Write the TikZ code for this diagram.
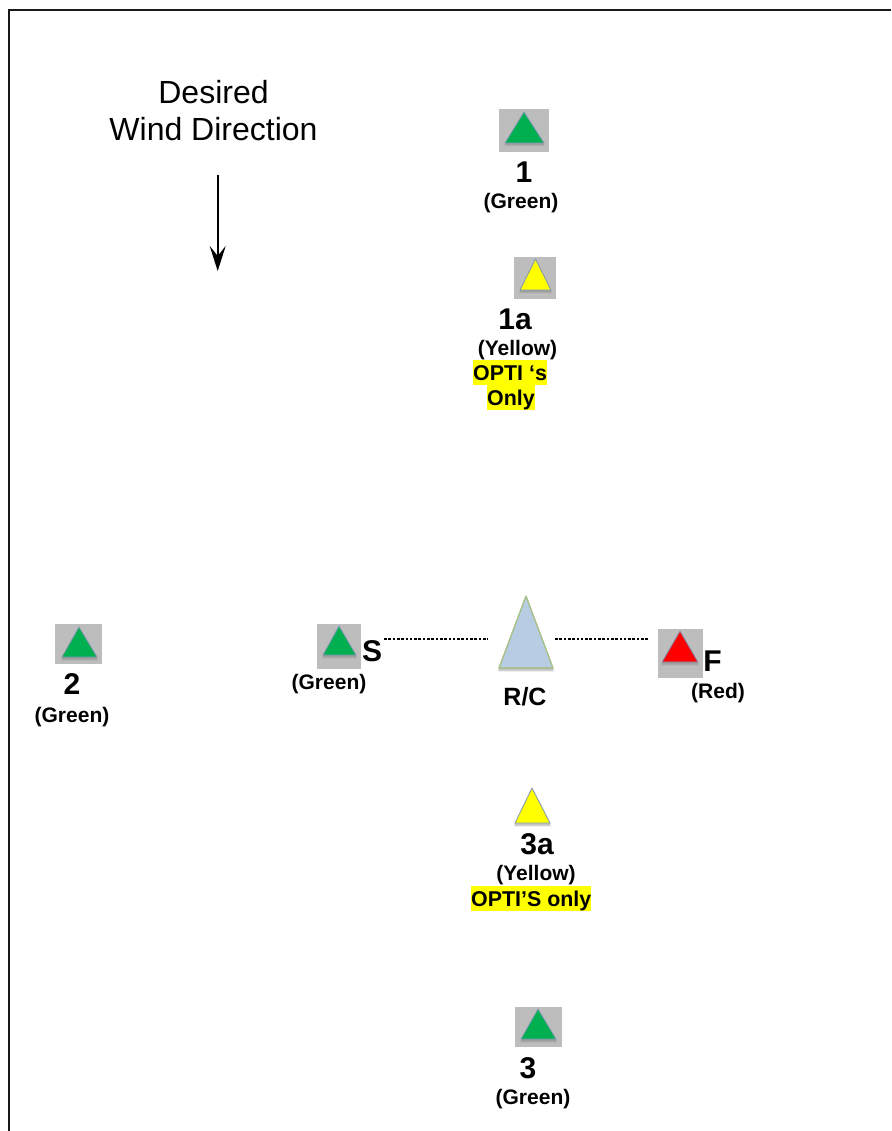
\documentclass[tikz,border=0pt]{standalone}
\usepackage{fontspec}
\setmainfont{Liberation Sans}
\usetikzlibrary{arrows.meta}
\definecolor{mkgray}{HTML}{BDBDBD}
\definecolor{mkgreen}{HTML}{00B050}
\definecolor{mkyellow}{HTML}{FFFF00}
\definecolor{mkred}{HTML}{FF0000}
\definecolor{rcblue}{HTML}{B8CCE4}
\definecolor{rcedge}{HTML}{A9C47F}
\definecolor{mkedge}{HTML}{7F98B4}
\tikzset{
  bigl/.style={inner sep=0,anchor=base,font=\fontsize{30}{30}\selectfont\bfseries},
  small/.style={inner sep=0,anchor=base,font=\fontsize{21}{21}\selectfont\bfseries},
  hl/.style={inner sep=0,anchor=south west,fill=mkyellow,text height=20.5pt,text depth=4.5pt,align=center,font=\fontsize{21.4}{21.4}\selectfont\bfseries},
  title/.style={inner sep=0,anchor=base,font=\fontsize{32}{32}\selectfont},
  graybox/.style={draw=none,fill=mkgray,inner sep=0},
  conn/.style={line width=2.6pt,dash pattern=on 2.6pt off 1.7pt},
}
\newcommand{\mkbox}[5]{\node[graybox,minimum width=#4pt-#2pt,minimum height=#5pt-#3pt,anchor=north west] (#1) at (#2,#3) {};}
\newcommand{\mktri}[6]{%
  \fill[black!45,opacity=.2] (#1,#2+2) -- (#3-1.5,#5+3.5) -- (#4+1.5,#5+3.5) -- cycle;
  \fill[black!55,opacity=.3] (#3-.5,#5) -- (#4+.5,#5) -- (#4,#5+2.5) -- (#3,#5+2.5) -- cycle;
  \filldraw[fill=#6,draw=mkedge,line width=.8pt,line join=round] (#1,#2) -- (#3,#5) -- (#4,#5) -- cycle;}
\begin{document}
\begin{tikzpicture}[x=1pt,y=-1pt]
\useasboundingbox (0,0) rectangle (891,1131);
\fill[white] (0,0) rectangle (891,1131);
\draw[line width=2pt,black!90] (9,1131) -- (9,10) -- (891,10);

% Wind
\node[title] (t1) at (213.5,103.5) {Desired};
\node[title] (t2) at (213.5,140.5) {Wind Direction};
\coordinate (wa) at (217.7,175);
\coordinate (wb) at (217.7,271);
\draw[line width=1.6pt,-{Stealth[length=25pt,width=16pt,inset=10pt]}] (wa) -- (wb);

% Mark 1
\mkbox{m1}{499}{109}{549}{152}
\mktri{524}{112}{505}{544}{143}{mkgreen}
\node[bigl] (l1) at (524,183) {1};
\node[small] (c1) at (521,209) {(Green)};

% Mark 1a
\mkbox{m1a}{514}{257}{556}{299}
\mktri{535.5}{259}{520}{551}{290}{mkyellow}
\node[bigl] (l1a) at (515,329) {1a};
\node[small] (c1a) at (517.5,355) {(Yellow)};
\node[hl] (o1) at (473,385) {OPTI ‘s};
\node[hl] (o2) at (487,410) {Only};

% Mark 2
\mkbox{m2}{55}{624}{102}{664}
\mktri{79}{627}{62}{97}{657}{mkgreen}
\node[bigl] (l2) at (72,694) {2};
\node[small] (c2) at (72,722) {(Green)};

% S
\mkbox{ms}{317}{624}{361}{669}
\mktri{339}{626}{323}{356}{655}{mkgreen}
\node[bigl] (ls) at (372,661) {S};
\node[small] (cs) at (329,689) {(Green)};

% R/C
\mktri{526}{596}{499}{553}{668}{rcblue}
\draw[rcedge,line width=1.2pt,line join=round] (526,596) -- (499,668) -- (553,668) -- cycle;
\node[small,font=\fontsize{25}{25}\selectfont\bfseries] (rc) at (525,705) {R/C};

% F
\mkbox{mf}{658}{629}{703}{678}
\mktri{680}{631}{662}{698}{662}{mkred}
\node[bigl] (lf) at (712.5,671) {F};
\node[small] (cf) at (718,698) {(Red)};

% Start / finish line
\coordinate (sa) at (384,639);
\coordinate (sb) at (488,639);
\coordinate (fa) at (555,639);
\coordinate (fb) at (648,639);
\draw[conn] (sa) -- (sb);
\draw[conn] (fa) -- (fb);

% Mark 3a
\mktri{532}{788}{515}{550}{823}{mkyellow}
\node[bigl] (l3a) at (537,854) {3a};
\node[small] (c3a) at (536,880) {(Yellow)};
\node[hl] (o3) at (471,911) {OPTI’S only};

% Mark 3
\mkbox{m3}{515}{1007}{562}{1047}
\mktri{538}{1009}{521}{556}{1039}{mkgreen}
\node[bigl] (l3) at (528,1078) {3};
\node[small] (c3) at (533,1104) {(Green)};
\end{tikzpicture}
\end{document}
